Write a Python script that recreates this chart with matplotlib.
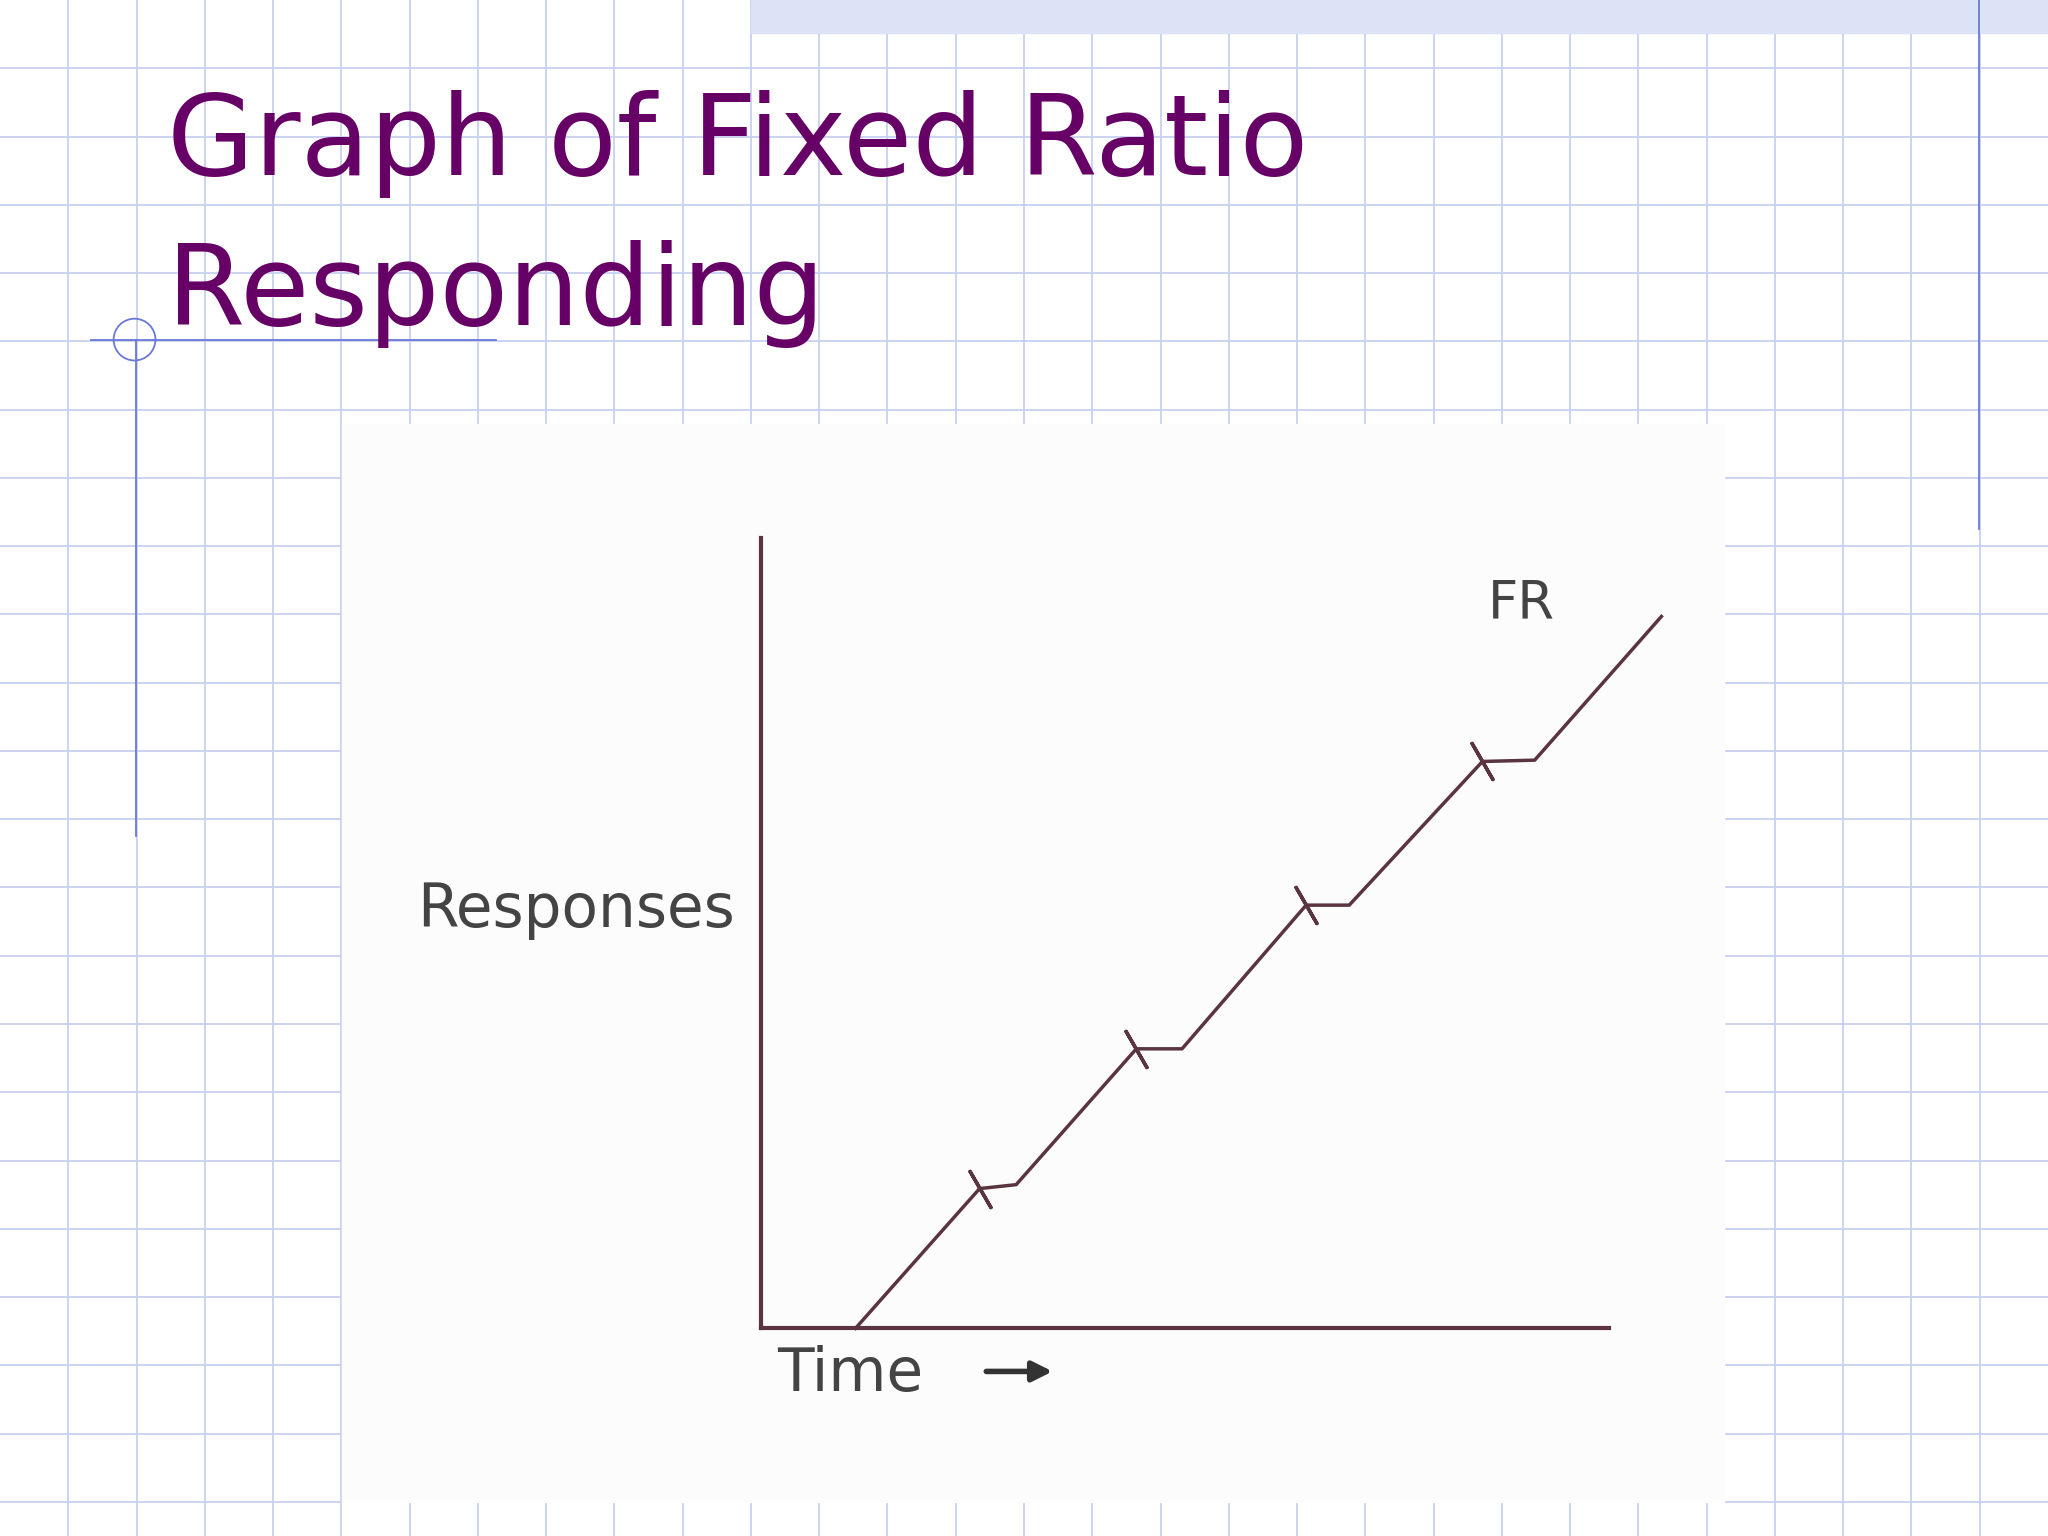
import matplotlib.pyplot as plt
from matplotlib.patches import Rectangle, Circle

# cumulative record (time units, responses)
times = [0.72, 1.67, 1.95, 2.87, 3.22, 4.17, 4.50, 5.52, 5.92, 6.89]
responses = [0.0, 1.07, 1.10, 2.14, 2.14, 3.24, 3.24, 4.34, 4.35, 5.45]
reinf_t = [1.67, 2.87, 4.17, 5.52]
reinf_r = [1.07, 2.14, 3.24, 4.34]

title_lines = ["Graph of Fixed Ratio", "Responding"]
purple = "#660066"
ink = "#5a3540"

W, H = 1568, 1176  # reference layout units (pixels of the displayed slide)
fig = plt.figure(figsize=(20.48, 15.36), dpi=100)

bg = fig.add_axes([0, 0, 1, 1])
bg.set_xlim(0, W)
bg.set_ylim(H, 0)
bg.axis("off")
step = W / 30
for i in range(1, 30):
    bg.axvline(i * step, color="#c8d0f0", lw=1.3, zorder=0)
for j in range(1, 23):
    bg.axhline(j * step, color="#c8d0f0", lw=1.3, zorder=0)
bg.add_patch(Rectangle((575, 0), W - 575, 25, color="#dde3f7", zorder=1))
bg.add_patch(Rectangle((262, 325), 1058, 825, color="#fcfcfc", zorder=2))
bg.plot([70, 380], [260, 260], color="#6a78d8", lw=1.3, zorder=3)
bg.plot([104, 104], [260, 640], color="#6a78d8", lw=1.3, zorder=3)
bg.plot([1515, 1515], [0, 405], color="#6a78d8", lw=1.3, zorder=3)
bg.add_patch(Circle((103, 260), 16, fill=False, ec="#6a78d8", lw=1.3, zorder=3))
bg.text(128, 110, title_lines[0], color=purple, fontsize=81, va="center",
         family="DejaVu Sans", zorder=4)
bg.text(128, 225, title_lines[1], color=purple, fontsize=81, va="center",
         family="DejaVu Sans", zorder=4)

# chart axes: origin at (583, 1017), 100 px per unit
x0, y0, scale = 583, 1017, 100
ax = fig.add_axes([x0 / W, 1 - y0 / H, 717 / W, 605 / H])
ax.set_xlim(0, 7.17)
ax.set_ylim(0, 6.05)
ax.axis("off")
ax.plot([0, 0], [0, 6.05], color=ink, lw=3, clip_on=False)
ax.plot([0, 6.49], [0, 0], color=ink, lw=3, clip_on=False)
ax.plot(times, responses, color=ink, lw=2.5, clip_on=False)
ax.scatter(reinf_t, reinf_r, marker=(2, 2, 30), s=900, color=ink, lw=2.5,
           clip_on=False)
ax.text(5.82, 5.55, "FR", fontsize=38, color="#444", ha="center", va="center")
ax.text(-0.2, 3.2, "Responses", fontsize=43, color="#444", ha="right", va="center")
ax.text(0.12, -0.35, "Time", fontsize=43, color="#444", ha="left", va="center")
ax.annotate("", xy=(2.25, -0.33), xytext=(1.7, -0.33), annotation_clip=False,
            arrowprops=dict(arrowstyle="-|>", color="#333", lw=4, mutation_scale=30))

fig.savefig("out.png", dpi=100)
